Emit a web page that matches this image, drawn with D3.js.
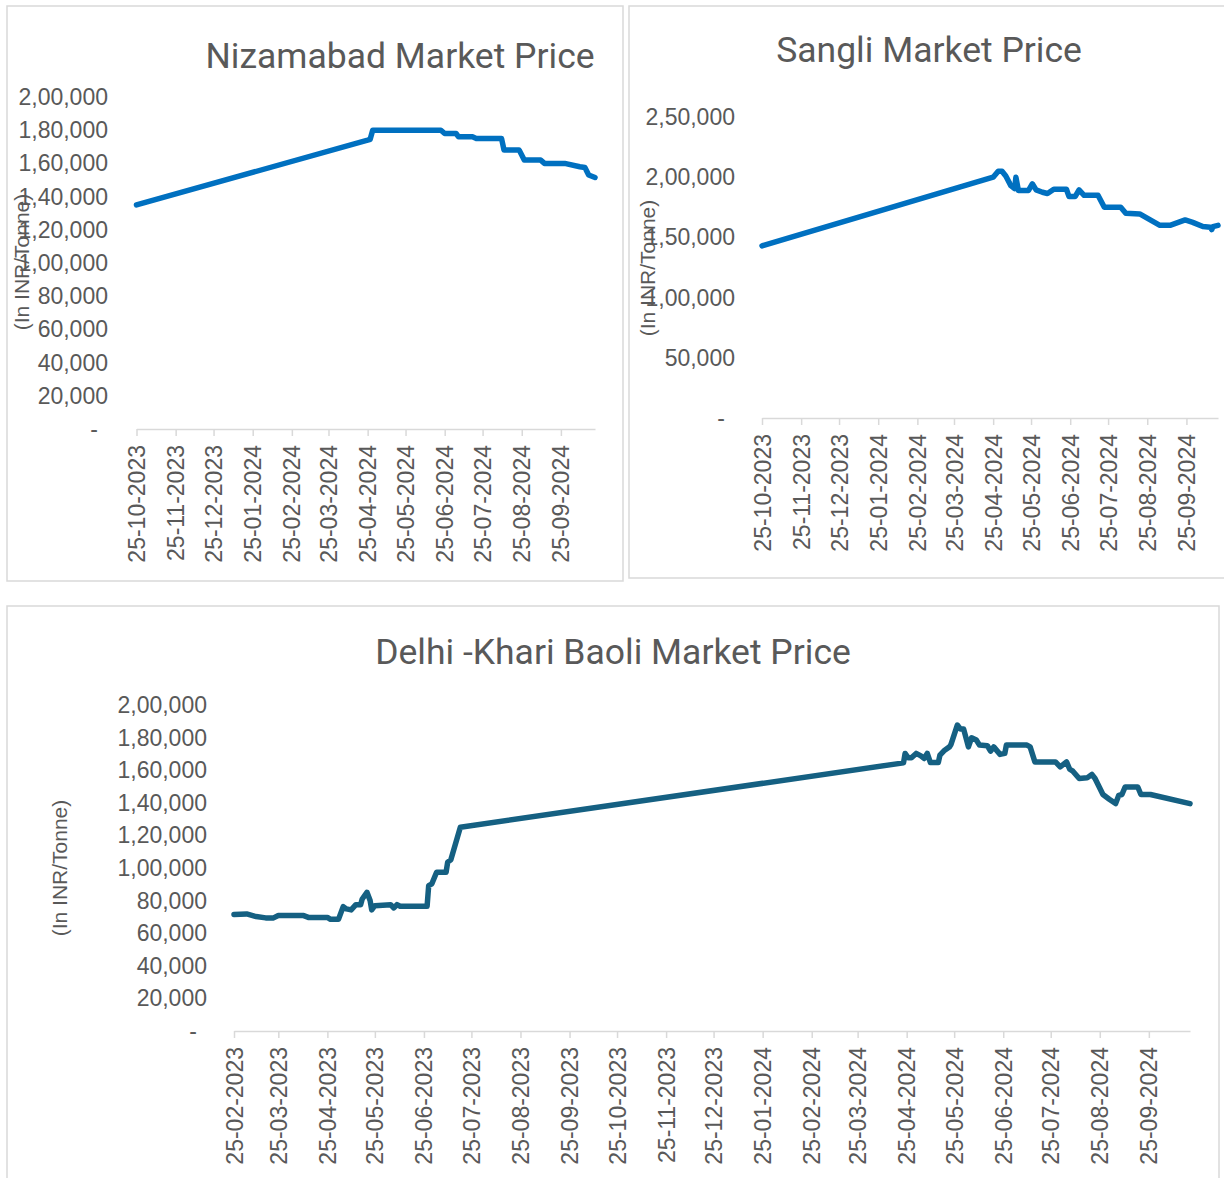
<!DOCTYPE html>
<html><head><meta charset="utf-8">
<script src="https://cdn.jsdelivr.net/npm/d3@7"></script>
<style>body{margin:0;background:#fff}</style>
</head><body><svg id="c" width="1224" height="1178"></svg>
<script>
// ---------------- DATA ----------------
const nizamabadDates = ["2023-10-25","2024-04-25","2024-04-27","2024-04-29","2024-06-22","2024-06-25","2024-07-04","2024-07-06","2024-07-17","2024-07-20","2024-08-09","2024-08-11","2024-08-23","2024-08-27","2024-09-09","2024-09-12","2024-09-28","2024-10-10","2024-10-14","2024-10-17","2024-10-22"];
const nizamabadPrices = [135000,174000,174500,180000,180000,178000,178000,176000,176000,175000,175000,168000,168000,162000,162000,160000,160000,158000,157500,153000,151500];

const sangliDates = ["2023-10-25","2024-04-25","2024-04-29","2024-05-02","2024-05-05","2024-05-09","2024-05-12","2024-05-13","2024-05-15","2024-05-23","2024-05-26","2024-05-29","2024-06-03","2024-06-07","2024-06-12","2024-06-22","2024-06-24","2024-06-29","2024-07-02","2024-07-06","2024-07-17","2024-07-22","2024-08-04","2024-08-08","2024-08-19","2024-09-04","2024-09-12","2024-09-24","2024-09-30","2024-10-08","2024-10-14","2024-10-15","2024-10-16","2024-10-20"];
const sangliPrices = [143000,200000,205000,205000,201000,193000,190500,200000,189000,189000,194500,189500,187500,186500,190000,190000,184000,184000,189500,185000,185000,175000,175000,170000,169500,160000,160000,164500,162500,159000,158500,156500,159000,160000];

const delhiDates = ["2023-02-25","2023-03-05","2023-03-11","2023-03-17","2023-03-22","2023-03-25","2023-04-10","2023-04-13","2023-04-25","2023-04-27","2023-05-02","2023-05-05","2023-05-07","2023-05-10","2023-05-13","2023-05-16","2023-05-17","2023-05-20","2023-05-22","2023-05-23","2023-05-25","2023-06-04","2023-06-06","2023-06-08","2023-06-10","2023-06-27","2023-06-28","2023-06-30","2023-07-03","2023-07-09","2023-07-10","2023-07-12","2023-07-18",
 "2024-04-23","2024-04-24","2024-04-26","2024-04-28","2024-05-01","2024-05-04","2024-05-06","2024-05-08","2024-05-10","2024-05-15","2024-05-16","2024-05-19","2024-05-22","2024-05-23","2024-05-27","2024-05-29","2024-05-31","2024-06-03","2024-06-05","2024-06-08","2024-06-10","2024-06-15","2024-06-17","2024-06-19","2024-06-23","2024-06-26","2024-06-27","2024-07-10","2024-07-12","2024-07-15","2024-07-28","2024-07-31","2024-08-04","2024-08-06","2024-08-08","2024-08-12","2024-08-17","2024-08-20","2024-08-22","2024-08-27","2024-08-31","2024-09-04","2024-09-06","2024-09-08","2024-09-10","2024-09-18","2024-09-20","2024-09-26","2024-10-21"];
const delhiPrices = [71500,71800,70200,69400,69400,70800,70800,69700,69700,68500,68500,76300,74900,74300,77500,77500,81000,85100,80000,74300,76900,77400,75500,77500,76500,76500,89200,90300,97400,97400,103600,105000,125000,
 164500,170300,167600,167600,170300,168800,167200,170300,164700,164700,169200,172300,174300,175800,187700,185200,185200,174300,179900,178500,175400,175000,171700,174300,169700,170300,175400,175400,174300,165100,165100,162000,165100,160600,159400,154900,155300,157400,154900,145100,142200,139500,144600,145100,149700,149700,145100,145100,139500];

const yTicks200k = [0,20000,40000,60000,80000,100000,120000,140000,160000,180000,200000];
const yTicks250k = [0,50000,100000,150000,200000,250000];
const titles = ["Nizamabad Market Price","Sangli Market Price","Delhi -Khari Baoli Market Price"];
const yAxisTitle = "(In INR/Tonne)";

// ---------------- HELPERS ----------------
function fmtIN(v){
  if(v===0) return "-";
  const s=String(Math.round(v));
  if(s.length<=3) return s;
  const last3=s.slice(-3); let rest=s.slice(0,-3); const parts=[];
  while(rest.length>2){parts.unshift(rest.slice(-2)); rest=rest.slice(0,-2);}
  if(rest) parts.unshift(rest);
  return parts.join(",")+","+last3;
}
const parse = d3.utcParse("%Y-%m-%d");
const fmtDate = d3.utcFormat("%d-%m-%Y");
const TXT = "#595959", AX = "#D9D9D9";

const panels = [
  {title:titles[0], dates:nizamabadDates, values:nizamabadPrices, yTicks:yTicks200k, color:"#0070C0",
   box:[7,6,616,575], xr:[136.5,595], yr:[429,97], tx:400, ty:68, ylx:22, yly:262, ytx:108},
  {title:titles[1], dates:sangliDates, values:sangliPrices, yTicks:yTicks250k, color:"#0070C0",
   box:[629,6,610,572], xr:[762,1218], yr:[418,117], tx:929, ty:62, ylx:648, yly:268, ytx:735},
  {title:titles[2], dates:delhiDates, values:delhiPrices, yTicks:yTicks200k, color:"#156082",
   box:[7,606,1212,600], xr:[234,1190], yr:[1031,705], tx:613, ty:664, ylx:60, yly:868, ytx:207}
];

const svg = d3.select("#c");
svg.append("rect").attr("width",1224).attr("height",1178).attr("fill","#fff");

panels.forEach(p=>{
  const g = svg.append("g");
  g.append("rect").attr("x",p.box[0]).attr("y",p.box[1]).attr("width",p.box[2]).attr("height",p.box[3])
    .attr("fill","#fff").attr("stroke",AX).attr("stroke-width",1.5);
  g.append("text").attr("x",p.tx).attr("y",p.ty).attr("text-anchor","middle")
    .attr("font-family","Roboto, sans-serif").attr("font-size",35.5).attr("fill",TXT).text(p.title);

  const dates = p.dates.map(parse);
  const x = d3.scaleUtc().domain([dates[0], dates[dates.length-1]]).range(p.xr);
  const y = d3.scaleLinear().domain([0, d3.max(p.yTicks)]).range(p.yr);

  const ticks = [];
  for(let i=0;;i++){ const t=d3.utcMonth.offset(dates[0],i); if(t>dates[dates.length-1]) break; ticks.push(t); }
  const xa = g.append("g").attr("transform",`translate(0,${y(0)})`)
    .call(d3.axisBottom(x).tickValues(ticks).tickSize(7).tickSizeOuter(0).tickFormat(fmtDate));
  xa.select(".domain").attr("stroke",AX).attr("stroke-width",1.5);
  xa.selectAll(".tick line").attr("stroke",AX).attr("stroke-width",1.5);
  xa.selectAll(".tick text").attr("transform","rotate(-90)").attr("x",-16).attr("y",0).attr("dy","0.35em")
    .attr("text-anchor","end").attr("font-family","'Liberation Sans', Arial, sans-serif").attr("font-size",23).attr("fill",TXT);

  g.selectAll(".ylab").data(p.yTicks).join("text")
    .attr("x",d=>d===0? p.ytx-10 : p.ytx).attr("y",d=>y(d)).attr("dy","0.35em").attr("text-anchor","end")
    .attr("font-family","'Liberation Sans', Arial, sans-serif").attr("font-size",23).attr("fill",TXT).text(fmtIN);

  const line = d3.line().x((d,i)=>x(dates[i])).y(d=>y(d));
  g.append("path").datum(p.values).attr("d",line).attr("fill","none").attr("stroke",p.color)
    .attr("stroke-width",5.5).attr("stroke-linejoin","round").attr("stroke-linecap","round");

  g.append("text").attr("transform",`translate(${p.ylx},${p.yly}) rotate(-90)`).attr("text-anchor","middle").attr("dy","0.35em")
    .attr("font-family","'Liberation Sans', Arial, sans-serif").attr("font-size",21).attr("fill",TXT).text(yAxisTitle);
});
</script></body></html>
